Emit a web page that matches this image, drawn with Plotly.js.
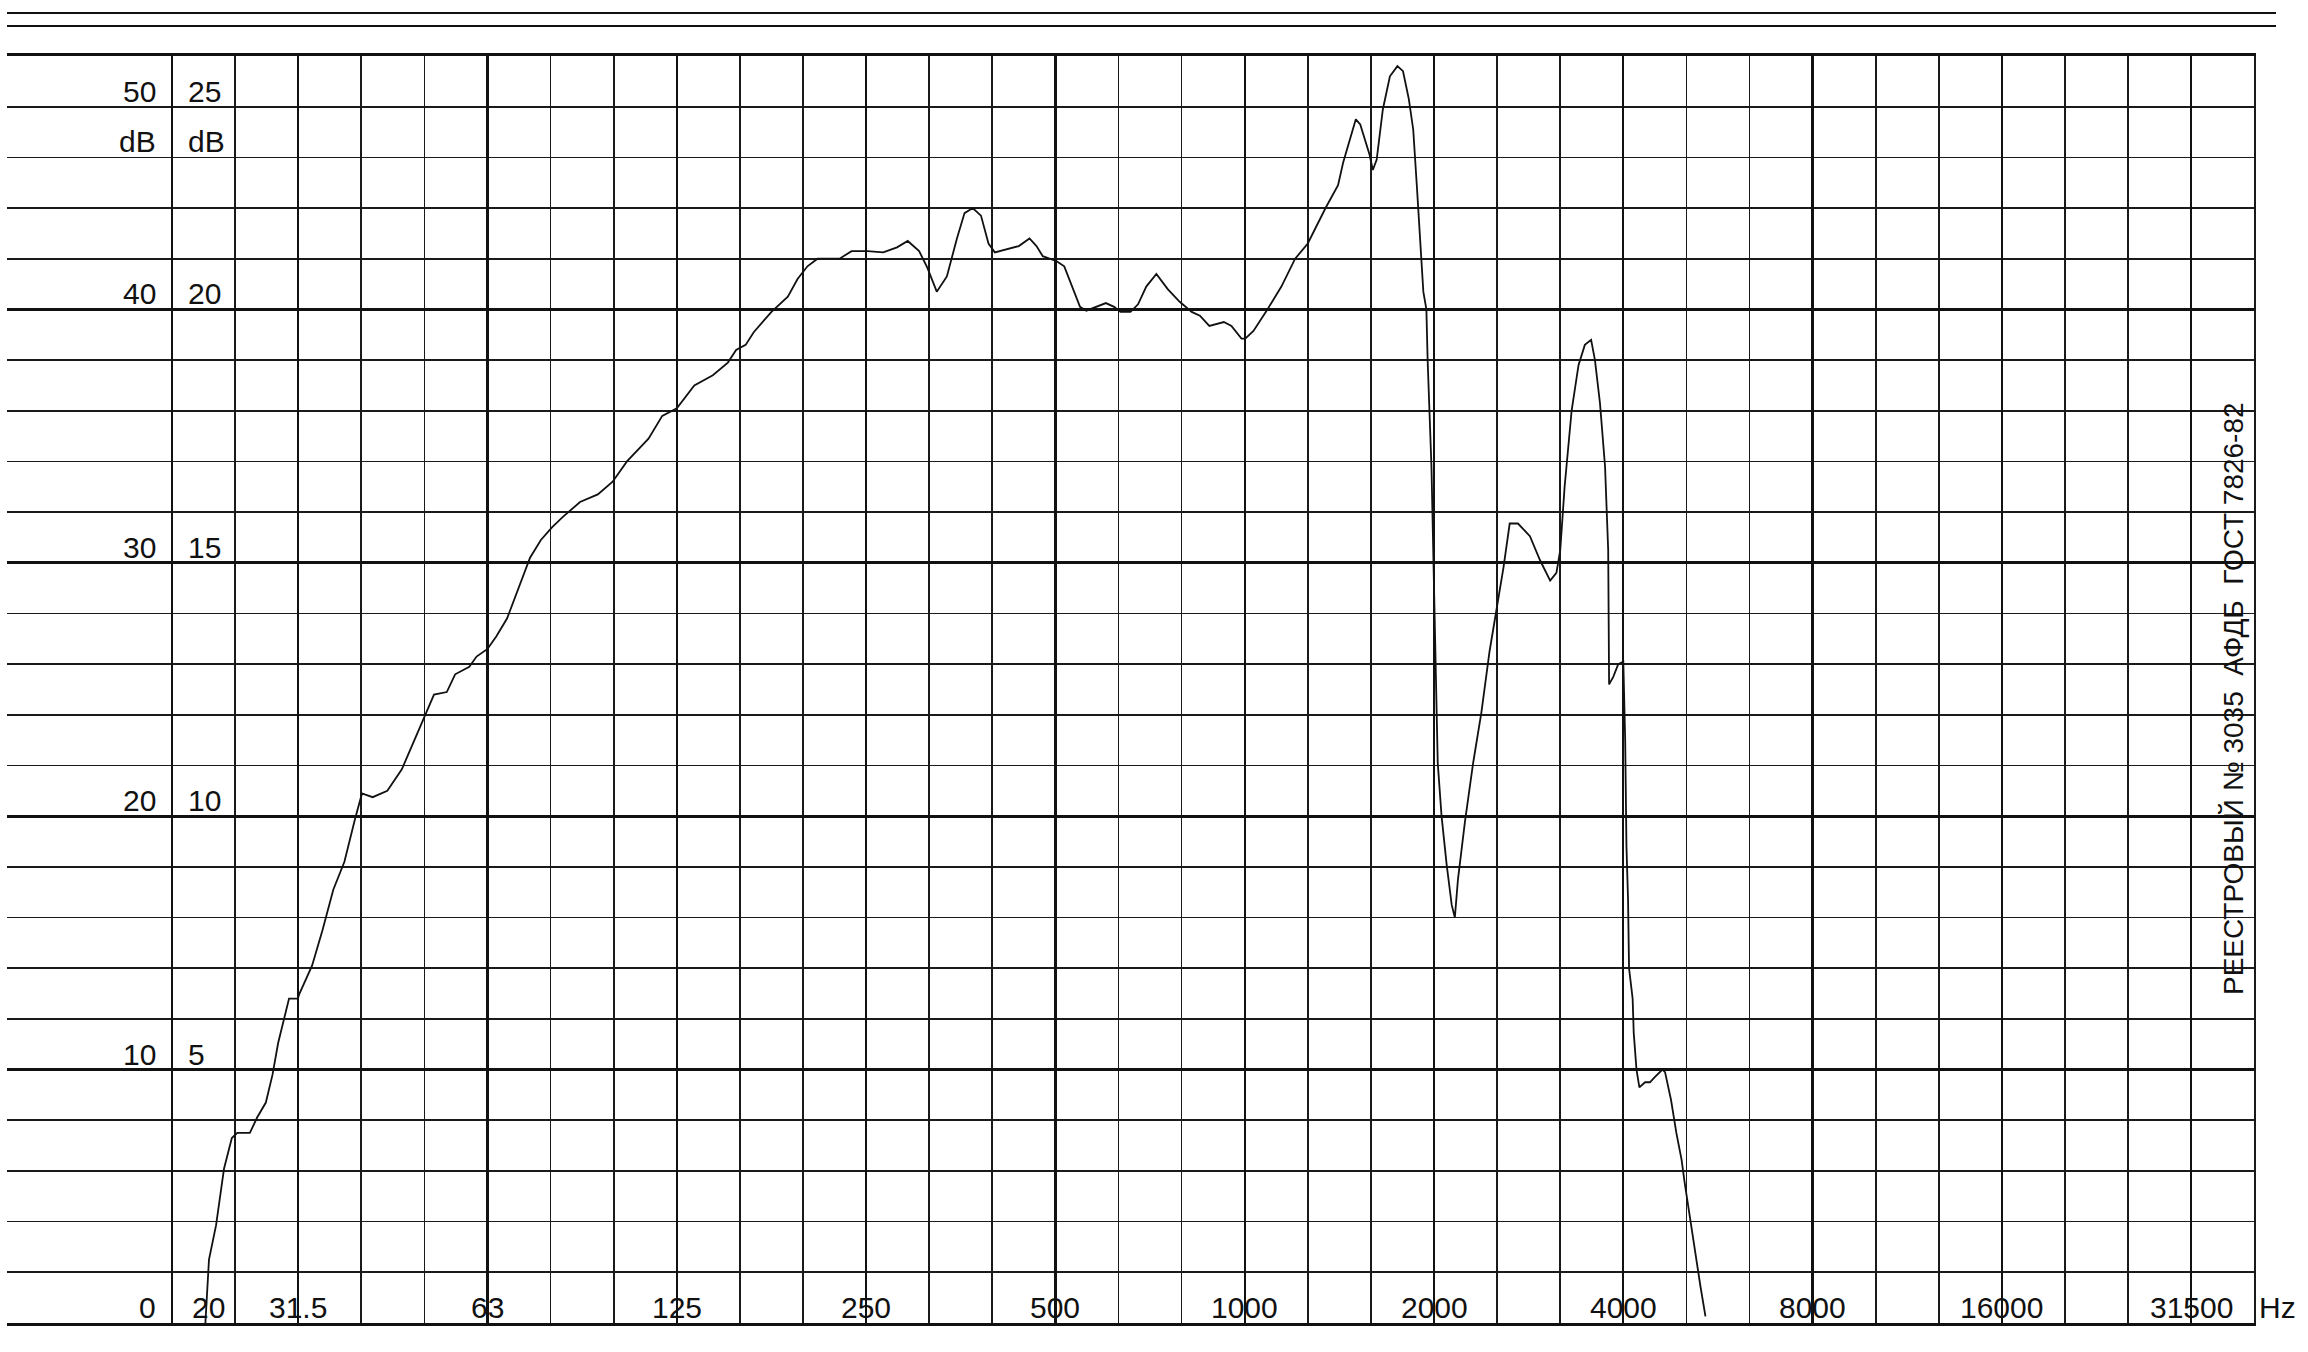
<!DOCTYPE html>
<html>
<head>
<meta charset="utf-8">
<script src="https://cdn.plot.ly/plotly-3.0.1.min.js"></script>
<style>
html,body{margin:0;padding:0;background:#ffffff;}
#chart{width:2308px;height:1352px;}
</style>
</head>
<body>
<div id="chart"></div>
<script>
// ---- data ----
const freqHz = [
  22.6, 22.9, 23.5, 24.2, 24.9, 25.4, 26.6, 27.3, 28.2, 28.9, 29.5, 30.1, 30.7, 31.7, 31.9, 33.4, 34.7, 36.1, 37.6, 39.1,
  40.1, 41.7, 44.0, 46.4, 48.8, 50.4, 52.2, 54.7, 56.4, 59.4, 61.0, 63.5, 65.6, 68.2, 70.9, 74.2, 77.2,
  80.4, 83.6, 89.1, 95.1, 100.4, 105.8, 114.5, 120.4, 127, 135.4, 144.9, 153.1, 157.8,
  163.4, 168.3, 179.6, 190.7, 197.6, 204.9, 212.6, 230.5, 240.8, 255.2, 270.4, 284.4, 295.8, 308.4, 317.8,
  329, 341.4, 354.2, 364.2, 375.3, 386.8, 397.6, 406.9, 431.1, 444.3, 462, 474, 485,
  510.3, 524.7, 540.7, 555.9, 568.9, 590.3, 611.1, 629.8, 644.5, 668.7, 687.5, 708.5, 735.2, 766.4, 800.8, 836.7, 862.2, 892.6, 941.4, 967.8, 1004, 1018,
  1049, 1104, 1162, 1222, 1280, 1366, 1430, 1457, 1494, 1526, 1551, 1580, 1605, 1624, 1647, 1685, 1729, 1777, 1814, 1853, 1883, 1909, 1936, 1954, 1976, 1985, 2013,
  2032, 2051, 2060, 2089, 2128, 2168, 2193, 2218, 2276, 2345, 2417, 2490, 2554, 2620, 2681, 2763, 2887, 2996, 3109, 3181, 3226,
  3278, 3363, 3449, 3530, 3612, 3663, 3731, 3801, 3845, 3858, 3917, 3989, 4064,
  4092, 4111, 4135, 4150, 4205, 4222, 4265, 4310, 4400, 4480, 4560, 4690, 4735, 4840, 4935, 5030, 5090, 5190, 5290, 5390, 5490
];
const levelDb = [
  0.0, 2.5, 3.85, 6.1, 7.3, 7.5, 7.5, 8.1, 8.7, 9.8, 11.05, 11.9, 12.8, 12.8, 13.0, 14.1, 15.5, 17.1, 18.2, 19.9,
  20.9, 20.75, 21.0, 21.85, 23.1, 23.9, 24.8, 24.9, 25.6, 25.9, 26.3, 26.6, 27.1, 27.8, 28.9, 30.2, 30.9,
  31.4, 31.8, 32.4, 32.7, 33.2, 34.0, 34.9, 35.8, 36.1, 37.0, 37.4, 37.9, 38.4,
  38.6, 39.1, 39.9, 40.5, 41.2, 41.7, 42.0, 42.0, 42.3, 42.3, 42.25, 42.45, 42.7, 42.3, 41.65,
  40.7, 41.3, 42.8, 43.8, 44.0, 43.7, 42.6, 42.25, 42.4, 42.5, 42.8, 42.5, 42.1,
  41.9, 41.7, 40.9, 40.1, 39.95, 40.1, 40.25, 40.1, 39.9, 39.9, 40.2, 40.9, 41.4, 40.8, 40.3, 39.9, 39.75, 39.35, 39.5, 39.35, 38.85, 38.85,
  39.15, 40.0, 40.9, 42.0, 42.6, 44.0, 44.9, 45.8, 46.7, 47.5, 47.3, 46.7, 46.1, 45.5, 45.9, 47.9, 49.2, 49.6, 49.4, 48.3, 47.1, 44.8, 42.5, 40.7, 40.0, 38.0, 33.8,
  28.8, 23.8, 22.1, 20.0, 18.1, 16.5, 16.0, 17.5, 19.8, 22.1, 24.1, 26.5, 28.1, 29.8, 31.55, 31.55, 31.05, 30.1, 29.3, 29.6, 30.5,
  33.0, 36.0, 37.8, 38.6, 38.8, 38.0, 36.3, 33.8, 30.5, 25.2, 25.5, 26.0, 26.1,
  23.0, 18.8, 16.7, 14.0, 12.8, 11.45, 10.0, 9.3, 9.5, 9.5, 9.7, 10.0, 9.9, 8.8, 7.5, 6.45, 5.5, 4.1, 2.8, 1.45, 0.26
];

// tick labels printed on the paper
const freqLabels = ["31.5", "63", "125", "250", "500", "1000", "2000", "4000", "8000", "16000", "31500"];
const lowFreqLabel = "20";
const unitLabel = "Hz";
const leftScaleLabels = ["50", "dB", "40", "30", "20", "10", "0"];
const leftScaleLevels = [48, 46, 40, 30, 20, 10, 0];
const rightScaleLabels = ["25", "dB", "20", "15", "10", "5"];
const rightScaleLevels = [48, 46, 40, 30, 20, 10];
const registryText = "РЕЕСТРОВЫЙ № 3035  АФДБ  ГОСТ 7826-82";

// ---- paper geometry (layout only) ----
const W = 2308, H = 1352;
const plotL = 7, plotR = 2254, plotT = 56, plotB = 1323;
const x20 = 172, pxPerThird = 63.1;
const L2 = Math.log10(2);
const logLo = Math.log10(20) - ((x20 - plotL) / pxPerThird) / 3 * L2;
const logHi = Math.log10(20) + ((plotR - x20) / pxPerThird) / 3 * L2;
const thirdOct = [];
for (let n = 0; n <= 33; n++) thirdOct.push(20 * Math.pow(2, n / 3));
const octaveLines = thirdOct.filter((v, n) => n === 0 || n % 3 === 2);
const pw = plotR - plotL, ph = plotB - plotT;
const px2paperX = p => (p - plotL) / pw;
const px2paperY = p => (plotB - p) / ph;

const font = {family: "Liberation Sans, Arial, sans-serif", size: 30, color: "#111"};
const annotations = [];
leftScaleLabels.forEach((t, i) => annotations.push({
  text: t, xref: "paper", x: px2paperX(158), xanchor: "right",
  yref: "y", y: leftScaleLevels[i], yanchor: "bottom", yshift: -3,
  showarrow: false, font: font
}));
rightScaleLabels.forEach((t, i) => annotations.push({
  text: t, xref: "paper", x: px2paperX(186), xanchor: "left",
  yref: "y", y: rightScaleLevels[i], yanchor: "bottom", yshift: -3,
  showarrow: false, font: font
}));
annotations.push({
  text: lowFreqLabel, xref: "paper", x: px2paperX(190), xanchor: "left",
  yref: "y", y: 0, yanchor: "bottom", yshift: -3, showarrow: false, font: font
});
freqLabels.forEach((t, i) => annotations.push({
  text: t, xref: "x", x: Math.log10(thirdOct[2 + 3 * i]), xanchor: "center",
  yref: "y", y: 0, yanchor: "bottom", yshift: -3, showarrow: false, font: font
}));
annotations.push({
  text: unitLabel, xref: "paper", x: px2paperX(2257), xanchor: "left",
  yref: "y", y: 0, yanchor: "bottom", yshift: -3, showarrow: false, font: font
});
annotations.push({
  text: registryText, xref: "paper", x: px2paperX(2233), xanchor: "center",
  yref: "paper", y: px2paperY(699), yanchor: "middle", textangle: -90,
  showarrow: false, font: {family: "Liberation Sans, Arial, sans-serif", size: 28, color: "#111"}
});

const shapes = [13, 26].map(py => ({
  type: "line", xref: "paper", yref: "paper",
  x0: 0, x1: px2paperX(2276), y0: px2paperY(py), y1: px2paperY(py),
  line: {color: "#111", width: 2.2}
}));

const trace = {
  x: freqHz, y: levelDb, type: "scatter", mode: "lines",
  line: {color: "#111", width: 1.8}, hoverinfo: "skip", showlegend: false
};

const layout = {
  width: W, height: H,
  margin: {l: plotL, r: W - plotR, t: plotT, b: H - plotB, pad: 0},
  paper_bgcolor: "#ffffff", plot_bgcolor: "#ffffff",
  showlegend: false,
  xaxis: {
    type: "log", range: [logLo, logHi], fixedrange: true,
    tickmode: "array", tickvals: octaveLines, showticklabels: false, ticks: "",
    showgrid: true, gridcolor: "#111", gridwidth: 2.2, zeroline: false,
    showline: true, mirror: true, linecolor: "#111", linewidth: 3,
    minor: {tickmode: "array", tickvals: thirdOct, showgrid: true, gridcolor: "#1a1a1a", gridwidth: 1.7, ticks: ""}
  },
  yaxis: {
    range: [0, 50], fixedrange: true,
    tickmode: "array", tickvals: [0, 10, 20, 30, 40, 50], showticklabels: false, ticks: "",
    showgrid: true, gridcolor: "#111", gridwidth: 3, zeroline: false,
    side: "right", showline: true, mirror: false, linecolor: "#1a1a1a", linewidth: 1.7,
    minor: {tick0: 0, dtick: 2, showgrid: true, gridcolor: "#1a1a1a", gridwidth: 1.7, ticks: ""}
  },
  annotations: annotations,
  shapes: shapes
};

Plotly.newPlot("chart", [trace], layout, {displayModeBar: false, staticPlot: true});
</script>
</body>
</html>
